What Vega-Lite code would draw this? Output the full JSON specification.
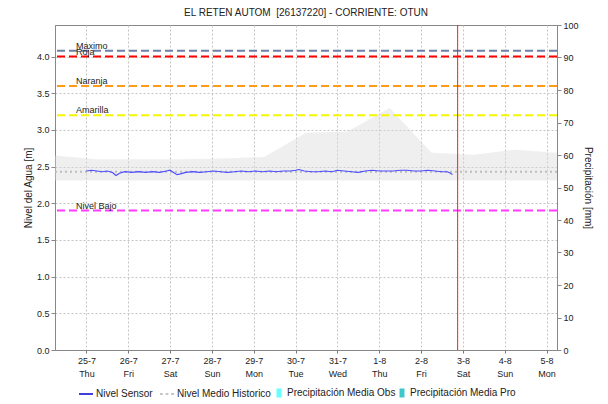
{
  "$schema": "https://vega.github.io/schema/vega-lite/v6.json",
  "width": 502,
  "height": 325,
  "autosize": {"type": "none"},
  "padding": {"left": 55, "top": 25, "right": 51, "bottom": 54},
  "background": "white",
  "title": {"text": "EL RETEN AUTOM \u00a0[26137220] - CORRIENTE: OTUN", "fontSize": 10, "fontWeight": "normal", "font": "Liberation Sans", "color": "#222222", "offset": 3, "anchor": "middle"},
  "config": {
    "font": "Liberation Sans",
    "view": {"stroke": "#888888", "strokeWidth": 1},
    "axis": {"labelFont": "Liberation Sans", "labelFontSize": 9, "labelColor": "#222222", "titleFont": "Liberation Sans", "titleFontSize": 10, "titleFontWeight": "normal", "titleColor": "#222222", "domainColor": "#888888", "tickColor": "#888888", "gridColor": "#c4c4c4", "gridDash": [2, 2], "gridWidth": 1}
  },
  "datasets": {
    "banda": [
      {"t": "2024-07-24T06:00:00", "alto": 2.65, "bajo": 2.31},
      {"t": "2024-07-25T06:00:00", "alto": 2.60, "bajo": 2.31},
      {"t": "2024-07-26T06:00:00", "alto": 2.60, "bajo": 2.31},
      {"t": "2024-07-27T06:00:00", "alto": 2.60, "bajo": 2.31},
      {"t": "2024-07-28T06:00:00", "alto": 2.61, "bajo": 2.31},
      {"t": "2024-07-29T06:00:00", "alto": 2.63, "bajo": 2.31},
      {"t": "2024-07-30T06:00:00", "alto": 2.96, "bajo": 2.31},
      {"t": "2024-07-31T06:00:00", "alto": 2.98, "bajo": 2.31},
      {"t": "2024-08-01T06:00:00", "alto": 3.30, "bajo": 2.31},
      {"t": "2024-08-02T06:00:00", "alto": 2.69, "bajo": 2.31},
      {"t": "2024-08-03T06:00:00", "alto": 2.66, "bajo": 2.31},
      {"t": "2024-08-04T06:00:00", "alto": 2.73, "bajo": 2.31},
      {"t": "2024-08-05T06:00:00", "alto": 2.69, "bajo": 2.31}
    ],
    "sensor": [
      {"t": "2024-07-25T00:00:00", "nivel": 2.44},
      {"t": "2024-07-25T03:00:00", "nivel": 2.45},
      {"t": "2024-07-25T06:00:00", "nivel": 2.44},
      {"t": "2024-07-25T09:00:00", "nivel": 2.43},
      {"t": "2024-07-25T12:00:00", "nivel": 2.44},
      {"t": "2024-07-25T15:00:00", "nivel": 2.42},
      {"t": "2024-07-25T17:00:00", "nivel": 2.38},
      {"t": "2024-07-25T19:00:00", "nivel": 2.41},
      {"t": "2024-07-25T22:00:00", "nivel": 2.43},
      {"t": "2024-07-26T02:00:00", "nivel": 2.42},
      {"t": "2024-07-26T06:00:00", "nivel": 2.43},
      {"t": "2024-07-26T10:00:00", "nivel": 2.42},
      {"t": "2024-07-26T14:00:00", "nivel": 2.43},
      {"t": "2024-07-26T18:00:00", "nivel": 2.42},
      {"t": "2024-07-26T22:00:00", "nivel": 2.44},
      {"t": "2024-07-27T00:00:00", "nivel": 2.45},
      {"t": "2024-07-27T02:00:00", "nivel": 2.42},
      {"t": "2024-07-27T04:00:00", "nivel": 2.39},
      {"t": "2024-07-27T06:00:00", "nivel": 2.40},
      {"t": "2024-07-27T09:00:00", "nivel": 2.42},
      {"t": "2024-07-27T13:00:00", "nivel": 2.43},
      {"t": "2024-07-27T17:00:00", "nivel": 2.42},
      {"t": "2024-07-27T21:00:00", "nivel": 2.43},
      {"t": "2024-07-28T01:00:00", "nivel": 2.44},
      {"t": "2024-07-28T05:00:00", "nivel": 2.43},
      {"t": "2024-07-28T09:00:00", "nivel": 2.42},
      {"t": "2024-07-28T13:00:00", "nivel": 2.43},
      {"t": "2024-07-28T17:00:00", "nivel": 2.44},
      {"t": "2024-07-28T21:00:00", "nivel": 2.43},
      {"t": "2024-07-29T01:00:00", "nivel": 2.44},
      {"t": "2024-07-29T05:00:00", "nivel": 2.43},
      {"t": "2024-07-29T09:00:00", "nivel": 2.44},
      {"t": "2024-07-29T13:00:00", "nivel": 2.43},
      {"t": "2024-07-29T17:00:00", "nivel": 2.44},
      {"t": "2024-07-29T21:00:00", "nivel": 2.44},
      {"t": "2024-07-30T00:00:00", "nivel": 2.45},
      {"t": "2024-07-30T02:00:00", "nivel": 2.46},
      {"t": "2024-07-30T05:00:00", "nivel": 2.44},
      {"t": "2024-07-30T09:00:00", "nivel": 2.43},
      {"t": "2024-07-30T13:00:00", "nivel": 2.43},
      {"t": "2024-07-30T17:00:00", "nivel": 2.44},
      {"t": "2024-07-30T21:00:00", "nivel": 2.43},
      {"t": "2024-07-31T00:00:00", "nivel": 2.45},
      {"t": "2024-07-31T04:00:00", "nivel": 2.44},
      {"t": "2024-07-31T08:00:00", "nivel": 2.43},
      {"t": "2024-07-31T12:00:00", "nivel": 2.42},
      {"t": "2024-07-31T16:00:00", "nivel": 2.44},
      {"t": "2024-07-31T20:00:00", "nivel": 2.45},
      {"t": "2024-08-01T00:00:00", "nivel": 2.44},
      {"t": "2024-08-01T04:00:00", "nivel": 2.44},
      {"t": "2024-08-01T08:00:00", "nivel": 2.44},
      {"t": "2024-08-01T12:00:00", "nivel": 2.45},
      {"t": "2024-08-01T16:00:00", "nivel": 2.45},
      {"t": "2024-08-01T20:00:00", "nivel": 2.44},
      {"t": "2024-08-02T00:00:00", "nivel": 2.44},
      {"t": "2024-08-02T04:00:00", "nivel": 2.45},
      {"t": "2024-08-02T08:00:00", "nivel": 2.44},
      {"t": "2024-08-02T12:00:00", "nivel": 2.43},
      {"t": "2024-08-02T15:00:00", "nivel": 2.43},
      {"t": "2024-08-02T17:00:00", "nivel": 2.41},
      {"t": "2024-08-02T18:00:00", "nivel": 2.39}
    ],
    "umbrales": [
      {"nombre": "Maximo", "valor": 4.08},
      {"nombre": "Roja", "valor": 4.0},
      {"nombre": "Naranja", "valor": 3.6},
      {"nombre": "Amarilla", "valor": 3.2},
      {"nombre": "Nivel Bajo", "valor": 1.9}
    ],
    "historico": [{"valor": 2.43}],
    "actual": [{"t": "2024-08-02T21:00:00"}],
    "leyenda": [{"serie": "Nivel Sensor"}, {"serie": "Nivel Medio Historico"}],
    "precip": [
      {"t": "2024-07-25T00:00:00", "serie": "Precipitación Media Obs", "mm": 0},
      {"t": "2024-07-25T00:00:00", "serie": "Precipitación Media Pro", "mm": 0}
    ]
  },
  "layer": [
    {
      "data": {"name": "banda"},
      "mark": {"type": "area", "color": "#d9d9d9", "opacity": 0.42},
      "encoding": {
        "x": {
          "field": "t", "type": "temporal", "title": null,
          "scale": {"domain": [{"year": 2024, "month": 7, "date": 24, "hours": 6}, {"year": 2024, "month": 8, "date": 5, "hours": 6}]},
          "axis": {
            "orient": "bottom",
            "values": [
              {"year": 2024, "month": 7, "date": 25}, {"year": 2024, "month": 7, "date": 26}, {"year": 2024, "month": 7, "date": 27},
              {"year": 2024, "month": 7, "date": 28}, {"year": 2024, "month": 7, "date": 29}, {"year": 2024, "month": 7, "date": 30},
              {"year": 2024, "month": 7, "date": 31}, {"year": 2024, "month": 8, "date": 1}, {"year": 2024, "month": 8, "date": 2},
              {"year": 2024, "month": 8, "date": 3}, {"year": 2024, "month": 8, "date": 4}, {"year": 2024, "month": 8, "date": 5}
            ],
            "labelExpr": "[timeFormat(datum.value, '%-d-%-m'), timeFormat(datum.value, '%a')]",
            "grid": true, "tickSize": 3, "tickColor": "#777777", "labelPadding": 3, "labelLineHeight": 13, "labelAngle": 0,
            "labelOverlap": false, "labelFlush": false, "title": null
          }
        },
        "y": {
          "field": "alto", "type": "quantitative", "title": "Nivel del Agua [m]",
          "scale": {"domain": [0, 4.43], "nice": false, "zero": false},
          "axis": {"orient": "left", "values": [0, 0.5, 1, 1.5, 2, 2.5, 3, 3.5, 4], "format": ".1f", "tickSize": 4, "labelPadding": 2, "titlePadding": 3, "grid": true, "title": "Nivel del Agua [m]"}
        },
        "y2": {"field": "bajo"}
      }
    },
    {
      "data": {"name": "historico"},
      "mark": {"type": "rule", "color": "#bdbdbd", "strokeDash": [2, 3], "strokeWidth": 2},
      "encoding": {"y": {"field": "valor", "type": "quantitative", "scale": {"domain": [0, 4.43], "nice": false, "zero": false}, "axis": null}}
    },
    {
      "data": {"name": "umbrales"},
      "mark": {"type": "rule", "strokeDash": [8, 4], "strokeWidth": 2},
      "encoding": {
        "y": {"field": "valor", "type": "quantitative", "scale": {"domain": [0, 4.43], "nice": false, "zero": false}, "axis": null},
        "stroke": {"field": "nombre", "type": "nominal", "legend": null,
          "scale": {"domain": ["Maximo", "Roja", "Naranja", "Amarilla", "Nivel Bajo"], "range": ["#6f80a6", "#ff0000", "#ff9a1a", "#f6f600", "#ff3cff"]}}
      }
    },
    {
      "data": {"name": "umbrales"},
      "mark": {"type": "text", "align": "left", "baseline": "alphabetic", "dy": -2, "fontSize": 9, "font": "Liberation Sans", "color": "#222222"},
      "encoding": {
        "x": {"datum": {"year": 2024, "month": 7, "date": 24, "hours": 18}, "type": "temporal"},
        "y": {"field": "valor", "type": "quantitative", "scale": {"domain": [0, 4.43], "nice": false, "zero": false}, "axis": null},
        "text": {"field": "nombre"}
      }
    },
    {
      "data": {"name": "sensor"},
      "mark": {"type": "line", "color": "#4d4dff", "strokeWidth": 1.2},
      "encoding": {
        "x": {"field": "t", "type": "temporal"},
        "y": {"field": "nivel", "type": "quantitative", "scale": {"domain": [0, 4.43], "nice": false, "zero": false}, "axis": null}
      }
    },
    {
      "data": {"name": "actual"},
      "mark": {"type": "rule", "color": "#ff1a1a", "strokeWidth": 1, "opacity": 1},
      "encoding": {"x": {"field": "t", "type": "temporal"}}
    },
    {
      "data": {"name": "leyenda"},
      "mark": {"type": "point", "filled": true, "opacity": 0},
      "encoding": {
        "color": {"field": "serie", "type": "nominal",
          "scale": {"domain": ["Nivel Sensor", "Nivel Medio Historico"], "range": ["#0000cc", "#b4b4b4"]},
          "legend": {"title": null, "orient": "none", "legendX": 23, "legendY": 361, "direction": "horizontal", "symbolSize": 196, "symbolStrokeWidth": 1.5, "symbolOpacity": 1, "labelFontSize": 10, "labelFont": "Liberation Sans", "labelColor": "#222222", "columnPadding": 4, "labelOffset": 2,
            "encode": {"symbols": {"update": {"stroke": {"scale": "color", "field": "value"}, "opacity": {"value": 1}}}}}},
        "shape": {"field": "serie", "type": "nominal",
          "scale": {"domain": ["Nivel Sensor", "Nivel Medio Historico"], "range": ["stroke", "M-1,0L-0.6,0M-0.2,0L0.2,0M0.6,0L1,0"]}}
      }
    },
    {
      "data": {"name": "precip"},
      "mark": {"type": "point", "filled": true, "opacity": 0},
      "encoding": {
        "x": {"field": "t", "type": "temporal"},
        "y": {"field": "mm", "type": "quantitative", "title": "Precipitación [mm]",
          "scale": {"domain": [0, 100], "nice": false},
          "axis": {"orient": "right", "values": [0, 10, 20, 30, 40, 50, 60, 70, 80, 90, 100], "grid": false, "tickSize": 4, "labelPadding": 2, "titlePadding": 4, "title": "Precipitación [mm]"}},
        "fill": {"field": "serie", "type": "nominal",
          "scale": {"domain": ["Precipitación Media Obs", "Precipitación Media Pro"], "range": ["#66ffff", "#3cc8c8"]},
          "legend": {"title": null, "orient": "none", "legendX": 219, "legendY": 363, "direction": "horizontal", "symbolType": "M-0.55,-1H0.55V1H-0.55Z", "symbolSize": 81, "symbolStrokeWidth": 0, "symbolOpacity": 1, "labelFontSize": 10, "labelFont": "Liberation Sans", "labelColor": "#222222", "columnPadding": 1, "labelOffset": 3}}
      }
    }
  ],
  "resolve": {"scale": {"y": "independent"}}
}
